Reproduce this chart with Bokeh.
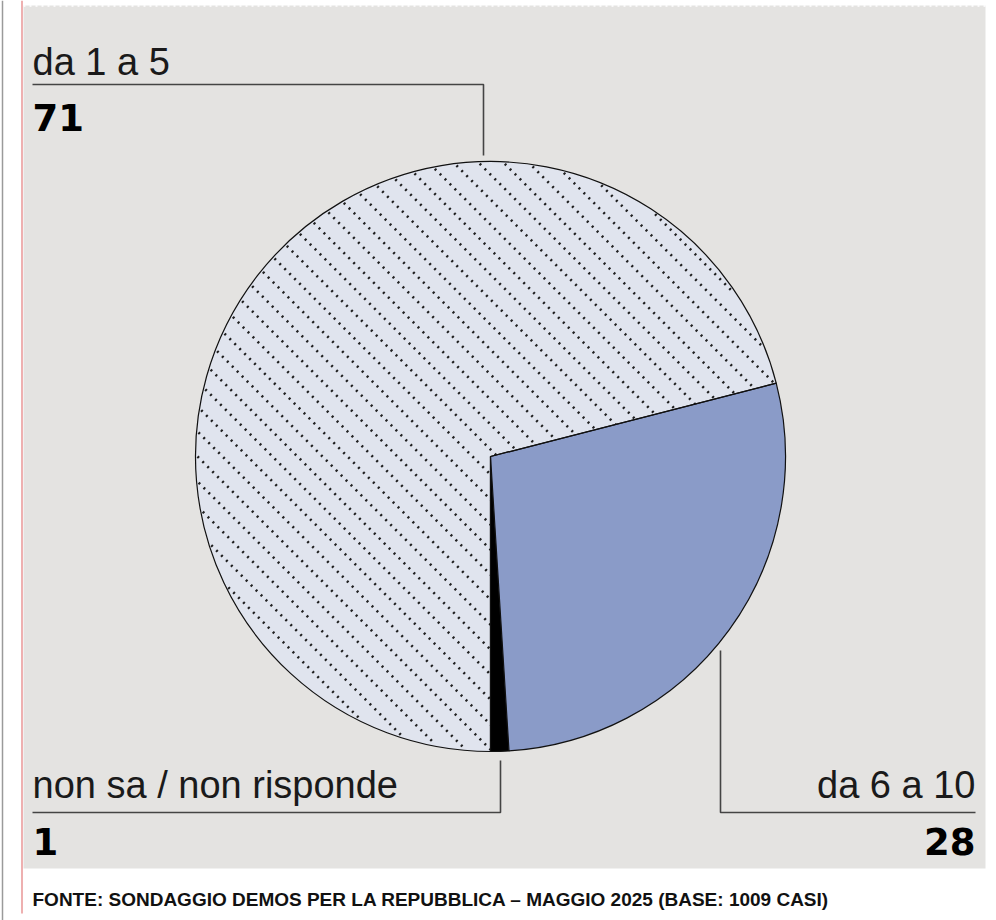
import math
from bokeh.plotting import figure
from bokeh.models import Range1d, ColumnDataSource
from bokeh.core.properties import value
from bokeh.embed import file_html
from bokeh.resources import INLINE

# data (percent), counter-clockwise from the bottom of the pie
categories = ["non sa / non risponde", "da 6 a 10", "da 1 a 5"]
values = [1, 28, 71]
source_note = "FONTE: SONDAGGIO DEMOS PER LA REPUBBLICA \u2013 MAGGIO 2025 (BASE: 1009 CASI)"

colors = ["#000000", "#8a9bc8", "#e0e4ee"]
hatched = [False, False, True]

W, H = 996, 920


def Y(py):
    # page pixel row -> data y
    return H - py


def base(py, size):
    # svg text sits a bit low with alphabetic baseline, pull it up
    return Y(py - 0.39 * size)


p = figure(width=W, height=H, x_range=Range1d(0, W), y_range=Range1d(0, H),
           output_backend="svg", toolbar_location=None, min_border=0)
p.axis.visible = False
p.grid.visible = False
p.outline_line_color = None
p.background_fill_color = "white"
p.border_fill_color = "white"

# frame: grey edge, grey panel, pink rule
p.line([2, 2], [Y(0), Y(920)], line_color="#9a9a9a", line_width=1.5)
p.quad(left=[23], right=[985], top=[Y(5)], bottom=[Y(868)], fill_color="#e4e3e1", line_color=None)
p.line([23, 985], [Y(5.5), Y(5.5)], line_color="white", line_width=1.5, line_dash="2 4")
p.line([21.5, 21.5], [Y(0), Y(913)], line_color="#eeb0b0", line_width=2)

# pie
total = sum(values)
starts, ends = [], []
cum = 0
for v in values:
    starts.append(-math.pi / 2 + 2 * math.pi * cum / total)
    cum += v
    ends.append(-math.pi / 2 + 2 * math.pi * cum / total)


def subset(flag):
    idx = [i for i, h in enumerate(hatched) if h == flag]
    return ColumnDataSource(dict(cat=[categories[i] for i in idx], val=[values[i] for i in idx],
                                 start=[starts[i] for i in idx], end=[ends[i] for i in idx],
                                 color=[colors[i] for i in idx]))


hatch_src = subset(True)
solid_src = subset(False)
cx, cy, r = 490, Y(456), 295
wkw = dict(x=cx, y=cy, radius=r, start_angle="start", end_angle="end", direction="anticlock")

p.wedge(fill_color="color", line_color=None, source=hatch_src, **wkw)

# dotted diagonal hatch over the disc; solid slices are painted over it
hx, hy = [], []
step = 25.0
c0 = cx + cy
k = -int(r * math.sqrt(2) / step) - 1
while True:
    c = c0 + k * step + 7
    d = (c - c0) / math.sqrt(2)
    k += 1
    if d > r:
        break
    if abs(d) >= r - 2:
        continue
    fx, fy = cx + d / math.sqrt(2), cy + d / math.sqrt(2)
    h = math.sqrt((r - 2) ** 2 - d ** 2) / math.sqrt(2)
    hx.append([fx - h, fx + h])
    hy.append([fy + h, fy - h])
p.multi_line(hx, hy, line_color="#151515", line_width=2.6, line_dash="2 5", line_alpha=0.95)

p.wedge(fill_color="color", line_color="#111111", line_width=1.2, source=solid_src, **wkw)
p.wedge(fill_color=None, line_color="#111111", line_width=1.2, source=hatch_src, **wkw)

# leader lines
lc = "#444444"
p.line([32, 483, 483], [Y(84), Y(84), Y(155)], line_color=lc, line_width=1.6)
p.line([32, 500, 500], [Y(812), Y(812), Y(760)], line_color=lc, line_width=1.6)
p.line([975, 720, 720], [Y(812), Y(812), Y(650)], line_color=lc, line_width=1.6)

lab_font = value("Liberation Sans")
num_font = value("DejaVu Sans")
LS, NS = 38, 37

# labels
p.text(x=[32], y=[base(76, LS)], text=[categories[2]], text_font=lab_font, text_font_size=f"{LS}px",
       text_color="#1a1a1a", text_baseline="alphabetic", text_align="left")
p.text(x=[32], y=[base(131, NS)], text=[str(values[2])], text_font=num_font, text_font_size=f"{NS}px",
       text_font_style="bold", text_color="#000000", text_baseline="alphabetic", text_align="left")

p.text(x=[32], y=[base(799, LS)], text=[categories[0]], text_font=lab_font, text_font_size=f"{LS}px",
       text_color="#1a1a1a", text_baseline="alphabetic", text_align="left")
p.text(x=[32], y=[base(855, NS)], text=[str(values[0])], text_font=num_font, text_font_size=f"{NS}px",
       text_font_style="bold", text_color="#000000", text_baseline="alphabetic", text_align="left")

p.text(x=[975], y=[base(799, LS)], text=[categories[1]], text_font=lab_font, text_font_size=f"{LS}px",
       text_color="#1a1a1a", text_baseline="alphabetic", text_align="right")
p.text(x=[975], y=[base(855, NS)], text=[str(values[1])], text_font=num_font, text_font_size=f"{NS}px",
       text_font_style="bold", text_color="#000000", text_baseline="alphabetic", text_align="right")

# footer
p.text(x=[32], y=[base(906, 19)], text=[source_note], text_font=value("Liberation Sans"),
       text_font_size="19px", text_font_style="bold", text_color="#111111",
       text_baseline="alphabetic", text_align="left")

open("out.html", "w").write(file_html(p, INLINE))
